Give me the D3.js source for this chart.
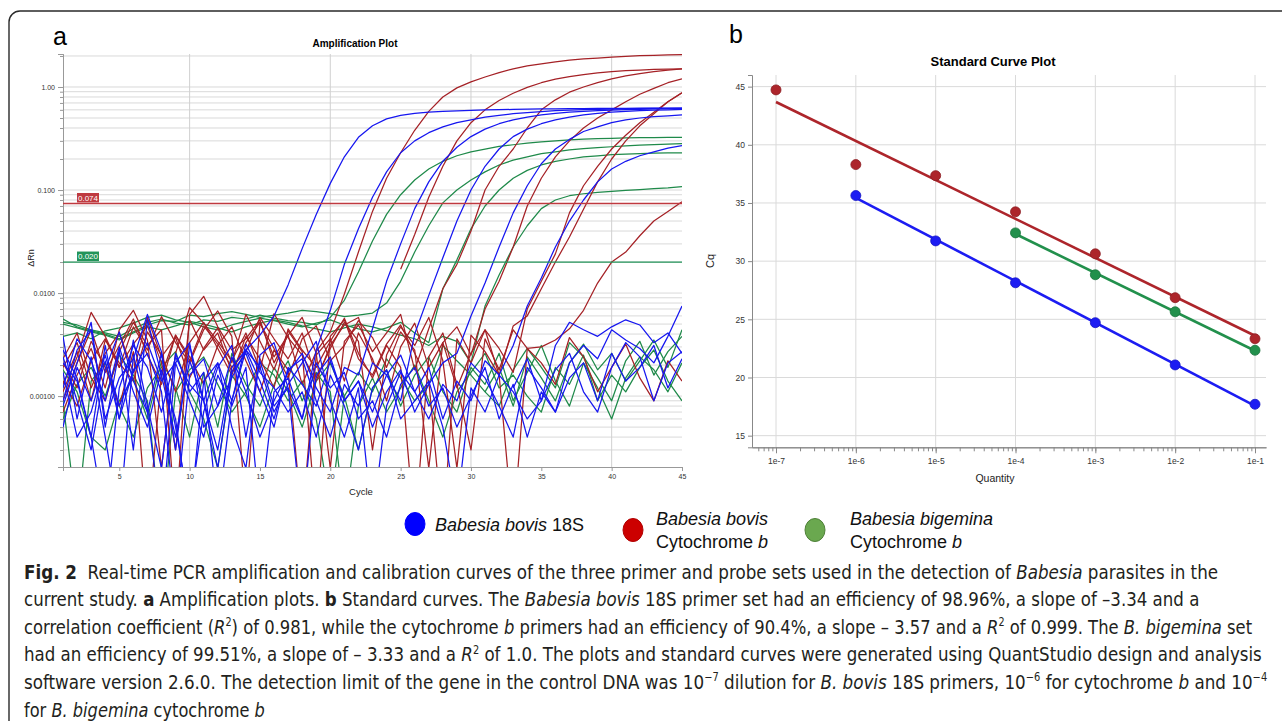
<!DOCTYPE html>
<html>
<head>
<meta charset="utf-8">
<script src="https://cdn.jsdelivr.net/npm/d3@7"></script>
<style>
  body { margin: 0; background: #fff; }
  svg text { font-family: Arial, "Liberation Sans", sans-serif; }
  .caption text { font-family: "Liberation Sans Narrow", "DejaVu Sans Condensed", Arial, sans-serif; }
</style>
</head>
<body>
<script>
// ---- panel a : amplification runs, delta Rn per cycle (1..45), null = negative value
var bovis18sRuns = [
  [.0008,.0021,.0052,.0005,.0028,.0003,.0055,.0016,.0004,.0022,.0009,.0003,.0019,.0028,.0039,.006,.012,.027,.058,.116,.21,.325,.42,.49,.53,.555,.57,.58,.587,.593,.598,.602,.606,.609,.612,.614,.616,.618,.619,.62,.621,.622,.623,.624,.625],
  [.0038,.0006,.0024,.0004,.00006,.0025,.0007,.0026,.0003,.0031,.0009,.0021,.0005,.0002,.0025,.0033,.0012,.0006,.0028,.0068,.019,.042,.085,.15,.23,.30,.36,.41,.45,.48,.51,.53,.55,.565,.578,.588,.596,.602,.607,.611,.614,.617,.619,.621,.623],
  [.0024,.0009,.0003,.0018,.0042,.0014,.0007,.00006,.0021,.0033,.0005,.0008,.0024,.0011,.0004,.0009,.0017,.0026,.0012,.0007,.0019,.0016,.0045,.013,.03,.066,.12,.19,.26,.33,.39,.44,.48,.51,.535,.555,.57,.58,.59,.597,.603,.608,.612,.615,.618],
  [.0017,.0004,.0007,.0022,.0006,.0035,.0008,.0002,.0026,.0011,.0017,.00007,.0009,.0028,.0014,.0006,.0018,.0023,.0009,.0004,.0013,.0008,.0021,.0016,.0009,.004,.0095,.022,.05,.1,.17,.25,.33,.39,.44,.48,.51,.535,.555,.57,.58,.588,.595,.6,.605],
  [.0009,.0028,.0044,.0006,.0015,.0023,.0062,.0027,.0005,.00008,.0007,.0019,.0031,.0004,.0022,.0008,.0012,.00006,.0016,.0024,.0009,.0014,.0005,.0011,.0018,.0007,.0013,.0021,.0026,.006,.0125,.028,.06,.11,.18,.25,.31,.37,.41,.45,.48,.5,.515,.525,.535],
  [.0021,.0014,.0004,.0031,.0006,.0018,.0026,.0011,.00007,.0016,.0023,.0008,.0015,.0028,.0019,.0007,.0013,.0021,.0034,.0009,.0004,.0012,.00006,.0008,.0017,.0011,.0019,.0006,.0014,.0009,.0022,.0016,.0031,.0075,.014,.028,.05,.08,.12,.16,.19,.215,.235,.255,.27],
  [.0028,.0015,.0004,.00006,.0012,.0031,.0019,.0007,.0024,.0013,.0009,.0002,.0017,.0026,.0011,.0005,.0019,.0013,.0008,.0022,.0009,.0014,.0007,.0016,.0025,.0011,.0006,.0013,.0009,.0021,.0015,.0008,.0004,.0019,.0012,.0007,.0021,.0031,.0023,.0044,.0035,.0029,.0021,.0038,.0075],
  [.0012,.0036,.0022,.0009,.0030,.0011,.0005,.0018,.0006,.00006,.0014,.0021,.0009,.0032,.0017,.0012,.0007,.0011,.0004,.0016,.0008,.0003,.0012,.0018,.0006,.0009,.0014,.0005,.00008,.0012,.0007,.0016,.0011,.0006,.0009,.0018,.0026,.0011,.0007,.0019,.0033,.0024,.0009,.0021,.0027],
  [.0005,.0019,.0009,.0025,.0008,.0017,.0033,.0014,.0021,.0009,.0004,.0016,.0008,.0019,.00007,.0011,.0015,.0006,.0021,.0012,.0017,.0006,.0009,.0004,.0013,.0019,.0008,.0012,.0005,.0010,.0019,.0006,.0013,.0004,.0011,.0007,.0015,.0021,.0009,.0026,.0014,.0019,.0031,.0012,.0023],
  [null,null,null,null,null,null,null,null,null,null,null,null,null,null,null,null,null,null,null,null,null,null,null,null,null,null,null,null,null,null,null,null,.0012,.0023,.0009,.0031,.0052,.0044,.0038,.0047,.0055,.0049,.0033,.0041,.0026]
];

var bovisCytbRuns = [
  [.0011,.0024,.0065,.0038,.0019,.0032,.0048,.0021,.0003,.0055,.0028,.0041,.0017,.0033,.0052,.0024,.0039,.0013,.0027,.0042,.0098,.025,.062,.13,.23,.38,.58,.80,.98,1.12,1.25,1.38,1.5,1.6,1.68,1.75,1.82,1.87,1.91,1.95,1.98,2.01,2.03,2.05,2.06],
  [.0007,.0016,.0029,.0012,.0044,.0068,.0035,.0002,.0026,.0072,.0051,.0034,.0022,.0041,.0018,.0063,.0037,.0025,.0014,.0031,.0049,.0058,.0021,null,.017,.037,.085,.17,.30,.45,.60,.74,.87,.99,1.1,1.19,1.26,1.32,1.37,1.41,1.44,1.46,1.48,1.49,1.5],
  [.0023,.0041,.0015,.0009,.0027,.0052,.0031,.0044,.00006,.0062,.0093,.0047,.0028,.0036,.0055,.0021,.0039,.0058,.0026,.0002,.0034,.0049,.0027,.0041,.0062,.0018,.0045,.011,.019,.04,.10,.17,.25,.40,.60,.75,.89,1.0,1.1,1.2,1.28,1.35,1.41,1.46,1.5],
  [.0014,.0008,.0022,.0036,.0019,.0047,.0028,.0059,.0033,.0021,.0044,.0067,.0038,.00008,.0051,.0029,.0015,.0036,.0048,.0022,.0031,.0054,.0037,.0019,.0042,.0028,.0002,.0033,.0047,.0025,.007,.013,.028,.07,.13,.21,.30,.40,.50,.60,.72,.85,.97,1.1,1.2],
  [.0019,.0033,.0012,.0026,.0041,.0017,.0058,.0024,.0037,.0015,.0029,.0046,.0021,.0062,.0034,.0018,.0043,.0027,.00006,.0038,.0055,.0023,.0016,.0032,.0049,.0026,.0014,.00005,.0036,.0021,.0044,.0029,.0017,.007,.013,.024,.06,.11,.17,.25,.34,.45,.57,.72,.88],
  [.0009,.0021,.0044,.0017,.0031,.0056,.0025,.0013,.0039,.0022,.0048,.0032,.0019,.0027,.0058,.0036,.0023,.0041,.0015,.0029,.0052,.0034,.0003,.0025,.0047,.0031,.0058,.0022,.0002,.0039,.0027,.0016,.0048,.006,.011,.02,.035,.065,.12,.20,.30,.42,.55,.72,.88],
  [.0013,.0027,.0009,.0035,.0021,.0014,.0042,.0025,.0011,.0033,.0052,.0029,.0016,.0038,.0023,.0012,.0045,.0028,.0019,.0034,.0057,.0026,.0015,.0031,.0019,.00005,.0024,.0041,.0013,.0003,.0036,.0018,.0044,.0029,.003,.0035,.0045,.0068,.0125,.02,.025,.036,.05,.062,.077],
  [.0021,.0012,.0034,.0019,.0008,.0027,.00005,.0016,.0039,.0024,.0013,.0031,.0047,.0022,.0011,.0028,.0018,.00006,.0025,.0036,.0014,.0041,.0023,.0009,.0030,.0051,.0019,.0033,.0012,.0026,.0044,.0016,.00005,.0029,.0021,.0013,.0037,.0024,.0011,.0019,.0032,.0015,.0009,.0022,.0014]
];

var bigeminaCytbRuns = [
  [.0052,.0049,.0044,.0041,.0038,.0045,.0052,.0056,.0051,.0049,.0055,.0053,.0058,.0056,.0061,.0057,.0054,.0052,.0049,.0058,.0085,.016,.032,.058,.09,.125,.16,.19,.215,.235,.25,.265,.275,.285,.293,.30,.306,.311,.315,.318,.32,.322,.323,.324,.325],
  [.0056,.0047,.0043,.0040,.0036,.0042,.0049,.0054,.0053,.0061,.0059,.0063,.0066,.0062,.0058,.0061,.0064,.0068,.0066,.0063,.0059,.0061,.0064,.008,.013,.025,.045,.075,.1,.125,.15,.175,.195,.21,.225,.235,.245,.252,.258,.263,.268,.272,.276,.279,.282],
  [.0038,.0041,.0036,.0043,.0046,.0051,.0058,.0061,.0055,.0052,.0047,.0044,.0049,.0053,.0057,.0054,.0050,.0047,.0051,.0055,.0049,.0045,.0042,.0046,.0052,.0041,.0033,.011,.021,.042,.07,.1,.13,.155,.175,.19,.20,.21,.215,.22,.223,.226,.228,.229,.23],
  [.0050,.0046,.0042,.0039,.0035,.0041,.0047,.0044,.0048,.0053,.0050,.0046,.0042,.0047,.0051,.0055,.0052,.0048,.0045,.0042,.0046,.0050,.0047,.0043,.0039,.0036,.0031,.0038,.0034,.0021,.0075,.015,.028,.045,.066,.08,.088,.092,.095,.097,.099,.101,.103,.105,.108],
  [.0018,.0011,.0004,.0003,.0009,.0015,.0006,.0022,.0012,.0004,.0017,.0005,.0026,.0013,.0008,.0019,.0011,.0005,.0014,.0021,.0010,.0003,.0012,.0018,.0008,.0016,.0024,.0011,.0007,.0019,.0013,.0026,.0009,.0017,.0031,.0014,.0008,.0021,.0012,.0006,.0015,.0024,.0018,.0011,.0021],
  [.0009,.00006,.0014,.0021,.0008,.0004,.0012,.0019,.0027,.0011,.0006,.0002,.0016,.0010,.0005,.0013,.0022,.0009,.0017,.0011,.00007,.0008,.0015,.0007,.0012,.0020,.0009,.0004,.0011,.0017,.0026,.0012,.0016,.0010,.0007,.0019,.0013,.0025,.0009,.0016,.0011,.0019,.0028,.0014,.0009],
  [.0006,.0013,.0019,.0010,.0025,.0016,.0009,.00005,.0011,.0018,.0024,.0013,.0007,.0011,.0021,.0016,.0009,.0014,.0006,.00008,.0010,.0017,.0011,.0023,.0015,.0009,.0013,.0031,.0022,.0016,.0011,.0008,.0018,.0029,.0019,.0012,.0033,.0024,.0015,.0009,.0022,.0034,.0016,.0027,.0038],
  [null,null,null,null,null,null,null,null,null,null,null,null,null,null,null,null,null,null,null,null,null,null,null,null,null,null,null,null,null,null,.0011,.0019,.0008,.0024,.0015,.0009,.0021,.0032,.0018,.0026,.0014,.0022,.0035,.0019,.0044]
];

var thresholdValues = [0.074, 0.020];
var thresholdLabels = ["0.074", "0.020"];
var cycleTicks = [5, 10, 15, 20, 25, 30, 35, 40, 45];
var cycleGrid = [10, 20, 30, 40];
var rnTicks = [0.001, 0.01, 0.1, 1];

// ---- panel b : standard curve
var quantities = [1e-7, 1e-6, 1e-5, 1e-4, 1e-3, 1e-2, 1e-1];
var quantityLabels = ["1e-7", "1e-6", "1e-5", "1e-4", "1e-3", "1e-2", "1e-1"];
var cqBovis18s = [null, 35.64, 31.74, 28.14, 24.71, 21.08, 17.70];
var cqBovisCytb = [44.72, 38.30, 37.35, 34.24, 30.63, 26.86, 23.33];
var cqBigemina = [null, null, null, 32.43, 28.83, 25.65, 22.34];
var cqTicks = [15, 20, 25, 30, 35, 40, 45];

var blueA = "#1616f0", redA = "#a52126", greenA = "#1f8a4a";
var blueB = "#1c1cf2", redB = "#ad252b", greenB = "#22904c";

var svg = d3.select("body")
  .append("svg")
  .attr("width", 1282)
  .attr("height", 721);

// figure frame
svg.append("rect")
  .attr("x", 9).attr("y", 11)
  .attr("width", 1330).attr("height", 800)
  .attr("rx", 11)
  .attr("fill", "none")
  .attr("stroke", "#2a2a2a")
  .attr("stroke-width", 1.4);

// ================= panel a =================
var xA = d3.scaleLinear().domain([1, 45]).range([63, 682]);
var yA = d3.scaleLog().domain([0.000205, 2.09]).range([467, 54]);

var gA = svg.append("g");

svg.append("text").attr("x", 53).attr("y", 45)
  .attr("font-size", 25).text("a");
svg.append("text").attr("x", 355).attr("y", 47)
  .attr("text-anchor", "middle").attr("font-size", 10).attr("font-weight", "bold")
  .text("Amplification Plot");

// grid lines
gA.selectAll(".hgrid")
  .data(yA.ticks())
  .enter().append("line")
  .attr("x1", 63).attr("x2", 682)
  .attr("y1", d => yA(d)).attr("y2", d => yA(d))
  .attr("stroke", "#d9d9d9").attr("stroke-width", 1);
gA.selectAll(".vgrid")
  .data(cycleGrid)
  .enter().append("line")
  .attr("x1", d => xA(d)).attr("x2", d => xA(d))
  .attr("y1", 54).attr("y2", 467)
  .attr("stroke", "#d0d0d0").attr("stroke-width", 1);

// axes
var minorA = gA.append("g")
  .attr("transform", "translate(63,0)")
  .call(d3.axisLeft(yA).tickValues(yA.ticks()).tickSize(3).tickFormat(""));
var leftA = gA.append("g")
  .attr("transform", "translate(63,0)")
  .call(d3.axisLeft(yA).tickValues(rnTicks).tickSize(5).tickFormat(d3.format(".3r")));
var bottomA = gA.append("g")
  .attr("transform", "translate(0,467)")
  .call(d3.axisBottom(xA).tickValues(cycleTicks).tickSize(4));

[minorA, leftA, bottomA].forEach(function(ax) {
  ax.selectAll("path, line").attr("stroke", "#999");
  ax.selectAll("text").attr("font-size", 7).attr("fill", "#333").attr("font-family", "Arial, sans-serif");
});

gA.append("text")
  .attr("transform", "translate(34,258) rotate(-90)")
  .attr("text-anchor", "middle").attr("font-size", 9).attr("fill", "#222")
  .text("ΔRn");
gA.append("text")
  .attr("x", 361).attr("y", 495)
  .attr("text-anchor", "middle").attr("font-size", 9.5).attr("fill", "#222")
  .text("Cycle");

// clip for curves
svg.append("defs").append("clipPath").attr("id", "clipA")
  .append("rect").attr("x", 63).attr("y", 54).attr("width", 619).attr("height", 413);

var lineA = d3.line()
  .defined(d => d != null)
  .x((d, i) => xA(i + 1))
  .y(d => yA(d));

var curves = gA.append("g").attr("clip-path", "url(#clipA)");

var runSets = [
  { runs: bigeminaCytbRuns, color: greenA },
  { runs: bovisCytbRuns, color: redA },
  { runs: bovis18sRuns, color: blueA }
];
runSets.forEach(function(s) {
  curves.selectAll(null)
    .data(s.runs)
    .enter().append("path")
    .attr("d", lineA)
    .attr("fill", "none")
    .attr("stroke", s.color)
    .attr("stroke-width", 1.25)
    .attr("stroke-linejoin", "round");
});

// thresholds
var thrColors = ["#bf3a40", "#23945a"];
thresholdValues.forEach(function(t, i) {
  var ty = yA(t);
  gA.append("line")
    .attr("x1", 63).attr("x2", 682)
    .attr("y1", ty).attr("y2", ty)
    .attr("stroke", thrColors[i]).attr("stroke-width", 1.3);
  gA.append("rect")
    .attr("x", 77).attr("y", ty - 10.5)
    .attr("width", 22).attr("height", 9.5)
    .attr("fill", thrColors[i]);
  gA.append("text")
    .attr("x", 88).attr("y", ty - 2.8)
    .attr("text-anchor", "middle").attr("font-size", 8).attr("fill", "#fff")
    .text(thresholdLabels[i]);
});

// ================= panel b =================
var xB = d3.scaleLog().domain([1e-7, 1e-1]).range([776, 1255]);
xB.domain([xB.invert(752), xB.invert(1266)]).range([752, 1266]);
var yB = d3.scaleLinear().domain([14, 46]).range([447.3, 75]);

var gB = svg.append("g");

svg.append("text").attr("x", 729).attr("y", 43)
  .attr("font-size", 25).text("b");
svg.append("text").attr("x", 993).attr("y", 66)
  .attr("text-anchor", "middle").attr("font-size", 13).attr("font-weight", "bold")
  .text("Standard Curve Plot");

gB.selectAll(".hgrid")
  .data(cqTicks)
  .enter().append("line")
  .attr("x1", 752).attr("x2", 1266)
  .attr("y1", d => yB(d)).attr("y2", d => yB(d))
  .attr("stroke", "#dadada");
gB.selectAll(".vgrid")
  .data(quantities)
  .enter().append("line")
  .attr("x1", d => xB(d)).attr("x2", d => xB(d))
  .attr("y1", 75).attr("y2", 447)
  .attr("stroke", "#dadada");

var minorB = gB.append("g")
  .attr("transform", "translate(0,447.3)")
  .call(d3.axisBottom(xB).tickValues(xB.ticks()).tickSize(4).tickFormat("").tickSizeOuter(0));
var bottomB = gB.append("g")
  .attr("transform", "translate(0,447.3)")
  .call(d3.axisBottom(xB).tickValues(quantities).tickSize(6).tickSizeOuter(0)
    .tickFormat((d, i) => quantityLabels[i]));
var leftB = gB.append("g")
  .attr("transform", "translate(752,0)")
  .call(d3.axisLeft(yB).tickValues(cqTicks).tickSize(4));

[minorB, bottomB, leftB].forEach(function(ax) {
  ax.selectAll("path, line").attr("stroke", "#888");
  ax.selectAll("text").attr("font-size", 8.5).attr("fill", "#333").attr("font-family", "Arial, sans-serif");
});
bottomB.selectAll("text").attr("dy", "0.9em");

gB.append("text")
  .attr("transform", "translate(714,261) rotate(-90)")
  .attr("text-anchor", "middle").attr("font-size", 11).attr("fill", "#222")
  .text("Cq");
gB.append("text")
  .attr("x", 995).attr("y", 482)
  .attr("text-anchor", "middle").attr("font-size", 10.5).attr("fill", "#222")
  .text("Quantity");

// least squares fit of Cq on log10(quantity)
function fitLine(cqs) {
  var pts = quantities.map((q, i) => [Math.log10(q), cqs[i]]).filter(p => p[1] != null);
  var mx = d3.mean(pts, p => p[0]), my = d3.mean(pts, p => p[1]);
  var sxy = d3.sum(pts, p => (p[0] - mx) * (p[1] - my));
  var sxx = d3.sum(pts, p => (p[0] - mx) * (p[0] - mx));
  var slope = sxy / sxx;
  var x0 = d3.min(pts, p => p[0]), x1 = d3.max(pts, p => p[0]);
  return [[Math.pow(10, x0), my + slope * (x0 - mx)], [Math.pow(10, x1), my + slope * (x1 - mx)]];
}

var stdSets = [
  { cq: cqBovisCytb, color: redB },
  { cq: cqBigemina, color: greenB },
  { cq: cqBovis18s, color: blueB }
];
stdSets.forEach(function(s) {
  var ends = fitLine(s.cq);
  gB.append("line")
    .attr("x1", xB(ends[0][0])).attr("y1", yB(ends[0][1]))
    .attr("x2", xB(ends[1][0])).attr("y2", yB(ends[1][1]))
    .attr("stroke", s.color).attr("stroke-width", 2.6);
  gB.selectAll(null)
    .data(quantities.map((q, i) => ({ q: q, cq: s.cq[i] })).filter(d => d.cq != null))
    .enter().append("circle")
    .attr("cx", d => xB(d.q))
    .attr("cy", d => yB(d.cq))
    .attr("r", 5)
    .attr("fill", s.color)
    .attr("stroke", d3.color(s.color).darker(0.6))
    .attr("stroke-width", 0.8);
});

// ================= legend =================
var legendItems = [
  { color: "#0000ff", stroke: "#0000ff", x: 415, y: 524, lines: [[["Babesia bovis", true], [" 18S", false]]] },
  { color: "#cc0000", stroke: "#b00000", x: 633, y: 530, lines: [[["Babesia bovis", true]], [["Cytochrome ", false], ["b", true]]] },
  { color: "#6aa84f", stroke: "#4e8038", x: 815, y: 530, lines: [[["Babesia bigemina", true]], [["Cytochrome ", false], ["b", true]]] }
];
var legend = svg.append("g");
legendItems.forEach(function(it) {
  legend.append("ellipse")
    .attr("cx", it.x).attr("cy", it.y).attr("rx", 10).attr("ry", 11.5)
    .attr("fill", it.color).attr("stroke", it.stroke).attr("stroke-width", 1);
  var tx = it.x + (it.lines.length > 1 ? (it.x > 800 ? 35 : 23) : 20);
  it.lines.forEach(function(parts, li) {
    var ty = it.lines.length > 1 ? it.y - 5 + li * 23 : it.y + 6.5;
    var t = legend.append("text").attr("x", tx).attr("y", ty).attr("font-size", 18).attr("fill", "#111");
    parts.forEach(function(p) {
      t.append("tspan").attr("font-style", p[1] ? "italic" : "normal").text(p[0]);
    });
  });
});

// ================= caption =================
var captionLines = [
  { w: 1195, parts: [["Fig. 2", "b"], ["  Real-time PCR amplification and calibration curves of the three primer and probe sets used in the detection of ", ""], ["Babesia", "i"], [" parasites in the", ""]] },
  { w: 1176, parts: [["current study. ", ""], ["a", "b"], [" Amplification plots. ", ""], ["b", "b"], [" Standard curves. The ", ""], ["Babesia bovis", "i"], [" 18S primer set had an efficiency of 98.96%, a slope of –3.34 and a", ""]] },
  { w: 1229, parts: [["correlation coefficient (", ""], ["R", "i"], ["2", "sup"], [") of 0.981, while the cytochrome ", ""], ["b", "i"], [" primers had an efficiency of 90.4%, a slope – 3.57 and a ", ""], ["R", "i"], ["2", "sup"], [" of 0.999. The ", ""], ["B. bigemina", "i"], [" set", ""]] },
  { w: 1238, parts: [["had an efficiency of 99.51%, a slope of – 3.33 and a ", ""], ["R", "i"], ["2", "sup"], [" of 1.0. The plots and standard curves were generated using QuantStudio design and analysis", ""]] },
  { w: 1244, parts: [["software version 2.6.0. The detection limit of the gene in the control DNA was 10", ""], ["−7", "sup"], [" dilution for ", ""], ["B. bovis", "i"], [" 18S primers, 10", ""], ["−6", "sup"], [" for cytochrome ", ""], ["b", "i"], [" and 10", ""], ["−4", "sup"]] },
  { w: 241, parts: [["for ", ""], ["B. bigemina", "i"], [" cytochrome ", ""], ["b", "i"]] }
];
var cap = svg.append("g").attr("class", "caption");
captionLines.forEach(function(ln, i) {
  var y0 = 578.5 + i * 27.6;
  var t = cap.append("text")
    .attr("x", 0).attr("y", 0)
    .attr("font-size", 19.5).attr("fill", "#231f20")
    .attr("xml:space", "preserve");
  var raised = false;
  ln.parts.forEach(function(p) {
    var s = t.append("tspan").text(p[0]);
    if (p[1] === "b") s.attr("font-weight", "bold");
    if (p[1] === "i") s.attr("font-style", "italic");
    if (p[1] === "sup") { s.attr("font-size", 11.5).attr("dy", -7.5); raised = true; }
    else if (raised) { s.attr("dy", 7.5); raised = false; }
  });
  // squeeze the line horizontally to the width it has in the figure
  var natural = t.node().getComputedTextLength();
  t.attr("transform", "translate(24," + y0 + ") scale(" + (ln.w / natural) + ",1)");
});
</script>
</body>
</html>
